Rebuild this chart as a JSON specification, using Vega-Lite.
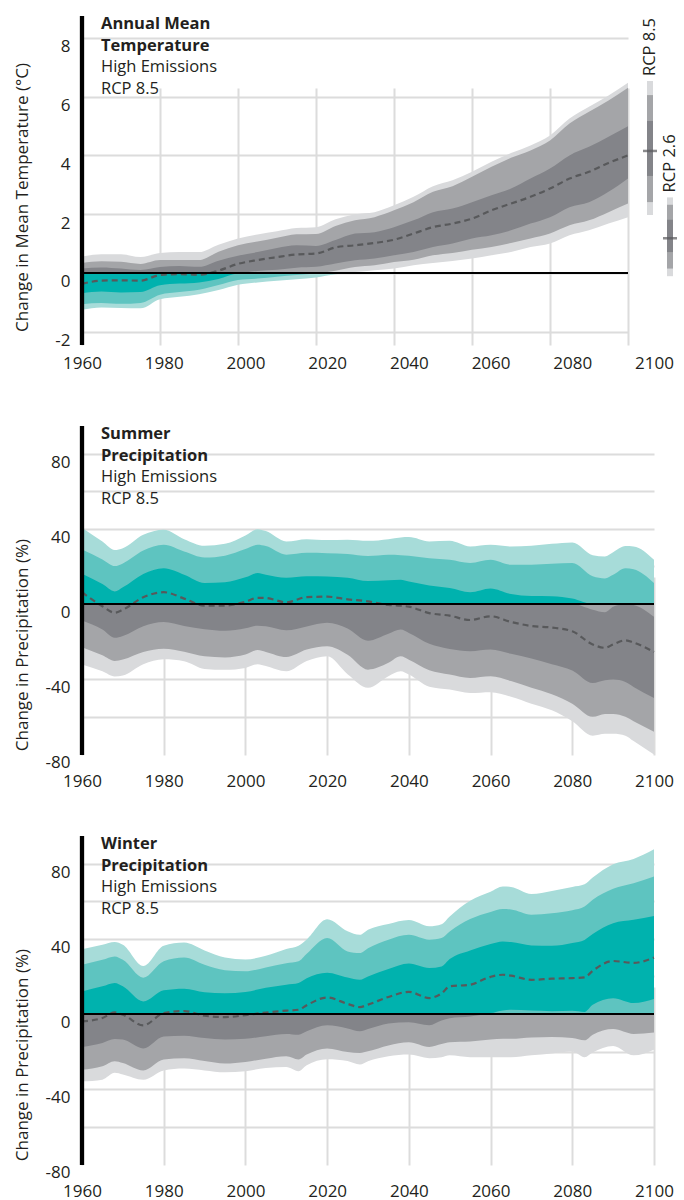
{
"$schema": "https://vega.github.io/schema/vega-lite/v6.json",
"autosize": {"type": "pad"},
"padding": {"left": 12, "top": 13, "right": 5, "bottom": 5},
"bounds": "flush",
"spacing": 81,
"config": {"font": "Open Sans", "view": {"stroke": null},
  "axis": {"labelColor": "#231f20", "titleColor": "#231f20", "labelFontSize": 17, "titleFontSize": 17, "titleFontWeight": "normal", "gridColor": "#dcdcdc", "gridWidth": 2, "domain": false, "ticks": false, "labelFont": "Open Sans", "titleFont": "Open Sans"}},
"datasets": {
"temp": [
{"year":1960,"p5":-1.25,"p10":-1.06,"p25":-0.69,"p50":-0.37,"p75":0.15,"p90":0.34,"p95":0.56},
{"year":1965,"p5":-1.17,"p10":-1.02,"p25":-0.63,"p50":-0.26,"p75":0.19,"p90":0.40,"p95":0.64},
{"year":1970,"p5":-1.19,"p10":-1.05,"p25":-0.66,"p50":-0.25,"p75":0.15,"p90":0.38,"p95":0.64},
{"year":1975,"p5":-1.20,"p10":-1.02,"p25":-0.65,"p50":-0.26,"p75":0.10,"p90":0.31,"p95":0.54},
{"year":1980,"p5":-0.89,"p10":-0.74,"p25":-0.42,"p50":-0.07,"p75":0.20,"p90":0.44,"p95":0.68},
{"year":1985,"p5":-0.81,"p10":-0.65,"p25":-0.36,"p50":-0.04,"p75":0.24,"p90":0.44,"p95":0.71},
{"year":1990,"p5":-0.72,"p10":-0.57,"p25":-0.32,"p50":-0.06,"p75":0.21,"p90":0.44,"p95":0.71},
{"year":1995,"p5":-0.58,"p10":-0.41,"p25":-0.20,"p50":0.08,"p75":0.42,"p90":0.72,"p95":0.96},
{"year":2000,"p5":-0.40,"p10":-0.24,"p25":-0.02,"p50":0.31,"p75":0.59,"p90":0.94,"p95":1.17},
{"year":2005,"p5":-0.32,"p10":-0.19,"p25":0.07,"p50":0.44,"p75":0.71,"p90":1.07,"p95":1.31},
{"year":2010,"p5":-0.26,"p10":-0.13,"p25":0.11,"p50":0.54,"p75":0.85,"p90":1.20,"p95":1.42},
{"year":2015,"p5":-0.21,"p10":-0.07,"p25":0.18,"p50":0.63,"p75":0.94,"p90":1.32,"p95":1.53},
{"year":2020,"p5":-0.15,"p10":-0.02,"p25":0.21,"p50":0.66,"p75":0.92,"p90":1.33,"p95":1.56},
{"year":2025,"p5":-0.04,"p10":0.08,"p25":0.32,"p50":0.87,"p75":1.12,"p90":1.60,"p95":1.83},
{"year":2030,"p5":0.03,"p10":0.20,"p25":0.43,"p50":0.94,"p75":1.34,"p90":1.79,"p95":2.00},
{"year":2035,"p5":0.09,"p10":0.26,"p25":0.49,"p50":1.02,"p75":1.39,"p90":1.90,"p95":2.07},
{"year":2040,"p5":0.15,"p10":0.37,"p25":0.60,"p50":1.13,"p75":1.56,"p90":2.13,"p95":2.30},
{"year":2045,"p5":0.26,"p10":0.45,"p25":0.71,"p50":1.34,"p75":1.79,"p90":2.41,"p95":2.59},
{"year":2050,"p5":0.34,"p10":0.60,"p25":0.88,"p50":1.56,"p75":2.07,"p90":2.76,"p95":2.95},
{"year":2055,"p5":0.41,"p10":0.68,"p25":1.00,"p50":1.68,"p75":2.19,"p90":2.95,"p95":3.15},
{"year":2060,"p5":0.49,"p10":0.79,"p25":1.17,"p50":1.85,"p75":2.41,"p90":3.27,"p95":3.44},
{"year":2065,"p5":0.60,"p10":0.88,"p25":1.28,"p50":2.13,"p75":2.64,"p90":3.61,"p95":3.78},
{"year":2070,"p5":0.71,"p10":1.02,"p25":1.45,"p50":2.36,"p75":2.87,"p90":3.92,"p95":4.08},
{"year":2075,"p5":0.88,"p10":1.17,"p25":1.68,"p50":2.59,"p75":3.21,"p90":4.17,"p95":4.34},
{"year":2080,"p5":1.00,"p10":1.34,"p25":1.90,"p50":2.87,"p75":3.55,"p90":4.51,"p95":4.68},
{"year":2085,"p5":1.28,"p10":1.62,"p25":2.24,"p50":3.21,"p75":4.00,"p90":5.08,"p95":5.25},
{"year":2090,"p5":1.45,"p10":1.79,"p25":2.41,"p50":3.44,"p75":4.29,"p90":5.48,"p95":5.65},
{"year":2095,"p5":1.68,"p10":2.07,"p25":2.76,"p50":3.74,"p75":4.63,"p90":5.87,"p95":6.04},
{"year":2100,"p5":1.90,"p10":2.36,"p25":3.21,"p50":4.00,"p75":4.99,"p90":6.30,"p95":6.47}
],
"rcp": [
{"scenario":"RCP 8.5","p5":1.97,"p10":2.41,"p25":3.30,"p50":4.15,"p75":5.17,"p90":6.05,"p95":6.53},
{"scenario":"RCP 2.6","p5":-0.11,"p10":0.15,"p25":0.71,"p50":1.18,"p75":1.81,"p90":2.32,"p95":2.57}
],
"summer": [
{"year":1960,"p5":-32.2,"p10":-23,"p25":-8.8,"p50":6.3,"p75":16.1,"p90":29,"p95":40.6},
{"year":1965,"p5":-35.8,"p10":-27.3,"p25":-13.6,"p50":-1.2,"p75":10.6,"p90":23.7,"p95":33.2},
{"year":1968,"p5":-38.5,"p10":-30.3,"p25":-18,"p50":-4.6,"p75":6.7,"p90":20.2,"p95":28.7},
{"year":1970,"p5":-38,"p10":-29.5,"p25":-17,"p50":-3,"p75":8.9,"p90":21.6,"p95":29.7},
{"year":1975,"p5":-32,"p10":-25.5,"p25":-11.8,"p50":3.6,"p75":16,"p90":28.4,"p95":36.8},
{"year":1980,"p5":-29.4,"p10":-23.8,"p25":-9.6,"p50":6.3,"p75":19,"p90":31.5,"p95":39.5},
{"year":1985,"p5":-30.4,"p10":-25.4,"p25":-11.7,"p50":2.9,"p75":15.6,"p90":27.9,"p95":34.5},
{"year":1990,"p5":-34.5,"p10":-27.8,"p25":-13.4,"p50":-0.9,"p75":11.2,"p90":24.7,"p95":31},
{"year":1995,"p5":-35,"p10":-28.4,"p25":-14.2,"p50":-0.8,"p75":11.6,"p90":25.7,"p95":32},
{"year":2000,"p5":-34,"p10":-26.9,"p25":-12.9,"p50":1.2,"p75":14.2,"p90":29.2,"p95":36.4},
{"year":2003,"p5":-32,"p10":-24.5,"p25":-11.5,"p50":3.3,"p75":16.5,"p90":31.5,"p95":39.8},
{"year":2005,"p5":-33,"p10":-25.5,"p25":-11.8,"p50":3.2,"p75":15.6,"p90":30.8,"p95":38.8},
{"year":2010,"p5":-35.8,"p10":-28.2,"p25":-14,"p50":0.9,"p75":14,"p90":26.2,"p95":33.3},
{"year":2015,"p5":-30.3,"p10":-24.2,"p25":-11.9,"p50":3.7,"p75":14.8,"p90":27.2,"p95":34.5},
{"year":2020,"p5":-27.8,"p10":-22.5,"p25":-10,"p50":3.9,"p75":14.6,"p90":27,"p95":34},
{"year":2025,"p5":-37.3,"p10":-27,"p25":-13,"p50":2.5,"p75":14,"p90":26.6,"p95":34.2},
{"year":2030,"p5":-44.6,"p10":-34.9,"p25":-19.5,"p50":1.4,"p75":12.2,"p90":25.5,"p95":33.6},
{"year":2035,"p5":-38.4,"p10":-31.3,"p25":-15.8,"p50":-0.5,"p75":12.6,"p90":26.2,"p95":34.5},
{"year":2038,"p5":-35.8,"p10":-27.8,"p25":-13.6,"p50":-0.9,"p75":12.9,"p90":26,"p95":35.4},
{"year":2040,"p5":-37.5,"p10":-29.6,"p25":-15.4,"p50":-1.4,"p75":12,"p90":25.7,"p95":35.6},
{"year":2045,"p5":-44,"p10":-35.2,"p25":-21.2,"p50":-4.8,"p75":9.9,"p90":24.4,"p95":33.3},
{"year":2050,"p5":-45.5,"p10":-37.5,"p25":-23.9,"p50":-6.2,"p75":8.5,"p90":23.5,"p95":33.6},
{"year":2055,"p5":-47.3,"p10":-39.3,"p25":-25.1,"p50":-8.5,"p75":6.3,"p90":21.8,"p95":30.6},
{"year":2060,"p5":-46.9,"p10":-38.4,"p25":-24.2,"p50":-6.5,"p75":8.3,"p90":23.5,"p95":31.5},
{"year":2065,"p5":-49.3,"p10":-41,"p25":-26.4,"p50":-9.5,"p75":5.3,"p90":20.9,"p95":30.6},
{"year":2070,"p5":-53,"p10":-44.5,"p25":-29,"p50":-11.7,"p75":4.2,"p90":20.9,"p95":31},
{"year":2075,"p5":-56.5,"p10":-48,"p25":-32,"p50":-12.5,"p75":4.1,"p90":21.4,"p95":32},
{"year":2080,"p5":-62.3,"p10":-53,"p25":-35.3,"p50":-14.5,"p75":2.9,"p90":21.8,"p95":32.7},
{"year":2085,"p5":-70,"p10":-60,"p25":-42,"p50":-21.5,"p75":-3,"p90":14.7,"p95":26},
{"year":2088,"p5":-69,"p10":-58.5,"p25":-40.5,"p50":-23.3,"p75":-4.4,"p90":13.6,"p95":25.3},
{"year":2090,"p5":-69,"p10":-58.5,"p25":-40.2,"p50":-21.5,"p75":-1.5,"p90":15.5,"p95":27.5},
{"year":2093,"p5":-70,"p10":-60,"p25":-41.5,"p50":-19.3,"p75":0.3,"p90":19,"p95":30.8},
{"year":2095,"p5":-72.9,"p10":-62.3,"p25":-44.1,"p50":-20.5,"p75":-0.5,"p90":18.5,"p95":30.6},
{"year":2100,"p5":-80,"p10":-68,"p25":-50,"p50":-25.5,"p75":-6.8,"p90":11.2,"p95":23.5}
],
"winter": [
{"year":1960,"p5":-35.8,"p10":-29.6,"p25":-17.5,"p50":-3.9,"p75":12,"p90":26.2,"p95":34.5},
{"year":1965,"p5":-34.9,"p10":-27.8,"p25":-15.4,"p50":-2.1,"p75":14.7,"p90":28.8,"p95":36.8},
{"year":1968,"p5":-31.3,"p10":-25.1,"p25":-13.3,"p50":0.9,"p75":16.5,"p90":30.6,"p95":38.3},
{"year":1970,"p5":-32.2,"p10":-26,"p25":-13.6,"p50":-0.4,"p75":14.7,"p90":28.8,"p95":36.8},
{"year":1975,"p5":-35,"p10":-30,"p25":-18.3,"p50":-6,"p75":6.7,"p90":19.3,"p95":25.5},
{"year":1980,"p5":-30,"p10":-24.2,"p25":-11.9,"p50":0.5,"p75":12.6,"p90":28,"p95":36.3},
{"year":1985,"p5":-29,"p10":-23.5,"p25":-11.5,"p50":1.6,"p75":13.5,"p90":30,"p95":38},
{"year":1990,"p5":-30,"p10":-25,"p25":-12.8,"p50":-0.9,"p75":11.6,"p90":26.2,"p95":33.8},
{"year":1995,"p5":-31,"p10":-26.3,"p25":-13.5,"p50":-1.6,"p75":11,"p90":23.3,"p95":30},
{"year":2000,"p5":-30.4,"p10":-25.5,"p25":-13.2,"p50":-0.6,"p75":11.7,"p90":22.7,"p95":29},
{"year":2005,"p5":-28.7,"p10":-23.8,"p25":-11.8,"p50":0.8,"p75":14,"p90":24.8,"p95":31},
{"year":2010,"p5":-28.2,"p10":-22.5,"p25":-10.6,"p50":1.8,"p75":15.6,"p90":27,"p95":34.6},
{"year":2013,"p5":-30.4,"p10":-24.2,"p25":-11,"p50":2.3,"p75":16.5,"p90":28,"p95":36.3},
{"year":2015,"p5":-27.3,"p10":-21.6,"p25":-9.2,"p50":4.7,"p75":19,"p90":32,"p95":39.7},
{"year":2020,"p5":-24,"p10":-18.3,"p25":-6,"p50":8.8,"p75":22,"p90":40.4,"p95":50.4},
{"year":2025,"p5":-25,"p10":-20.2,"p25":-7.7,"p50":5.4,"p75":19.4,"p90":33.3,"p95":44},
{"year":2028,"p5":-26.9,"p10":-20.7,"p25":-9.2,"p50":3.7,"p75":18.2,"p90":32.4,"p95":42.1},
{"year":2030,"p5":-25.1,"p10":-19.8,"p25":-8,"p50":5,"p75":20,"p90":35,"p95":44.8},
{"year":2035,"p5":-22.5,"p10":-16.7,"p25":-5,"p50":9.1,"p75":24,"p90":39.5,"p95":47.9},
{"year":2040,"p5":-21.6,"p10":-15,"p25":-4.4,"p50":11.8,"p75":26.9,"p90":42.1,"p95":50},
{"year":2045,"p5":-23.5,"p10":-17.5,"p25":-6,"p50":8.5,"p75":24.5,"p90":39.5,"p95":46.7},
{"year":2048,"p5":-23,"p10":-16,"p25":-3.5,"p50":11,"p75":25.3,"p90":40.4,"p95":47.8},
{"year":2050,"p5":-22,"p10":-15,"p25":-2.2,"p50":14.7,"p75":29.2,"p90":43.9,"p95":51.9},
{"year":2055,"p5":-23,"p10":-14.6,"p25":-1.3,"p50":15.6,"p75":33.8,"p90":50.5,"p95":60.2},
{"year":2060,"p5":-23,"p10":-13.5,"p25":0.5,"p50":19.8,"p75":37.2,"p90":54.3,"p95":65},
{"year":2063,"p5":-23,"p10":-13.2,"p25":1.9,"p50":20.9,"p75":38.6,"p90":55.8,"p95":67.8},
{"year":2065,"p5":-23,"p10":-13.2,"p25":2.2,"p50":20.4,"p75":38.3,"p90":55.6,"p95":67.6},
{"year":2070,"p5":-22,"p10":-12.5,"p25":1.8,"p50":18.2,"p75":36.5,"p90":52.8,"p95":63.8},
{"year":2075,"p5":-21,"p10":-12.2,"p25":1.5,"p50":18.8,"p75":36.3,"p90":53.6,"p95":65.5},
{"year":2080,"p5":-20,"p10":-12.7,"p25":1.7,"p50":19.1,"p75":37.8,"p90":55.2,"p95":67.6},
{"year":2083,"p5":-23,"p10":-14,"p25":1.1,"p50":19.5,"p75":39.4,"p90":57.2,"p95":69},
{"year":2085,"p5":-20.5,"p10":-11,"p25":4.9,"p50":23,"p75":42.5,"p90":60.8,"p95":72.6},
{"year":2090,"p5":-17,"p10":-8,"p25":8.4,"p50":28.2,"p75":48.3,"p90":66.7,"p95":79.7},
{"year":2095,"p5":-22,"p10":-10.6,"p25":5.8,"p50":27.2,"p75":50.1,"p90":69.6,"p95":82.5},
{"year":2100,"p5":-19,"p10":-9.9,"p25":8,"p50":30,"p75":52.2,"p90":73.1,"p95":87.6}
]
},
"vconcat": [
{
 "width": 546, "height": 329,
 "layer": [
  {
   "data": {"name": "temp"},
   "layer": [
    {"mark": {"type": "area", "interpolate": "monotone", "color": "#d9dadc"}, "encoding": {"x": {"field": "year", "type": "quantitative", "scale": {"domain": [1960, 2100], "nice": false, "zero": false}, "axis": {"orient": "bottom", "values": [1960,1980,2000,2020,2040,2060,2080,2100], "labels": false, "title": null, "grid": true}}, "y": {"field": "p95", "type": "quantitative", "scale": {"domain": [0, 8.74], "range": [257, 0], "clamp": true, "nice": false, "zero": false}, "axis": null}, "y2": {"field": "p5"}}},
    {"mark": {"type": "area", "interpolate": "monotone", "color": "#a7dcd9"}, "encoding": {"x": {"field": "year", "type": "quantitative", "scale": {"domain": [1960, 2100], "nice": false, "zero": false}, "axis": {"orient": "bottom", "values": [1960,1980,2000,2020,2040,2060,2080,2100], "labels": false, "title": null, "grid": true}}, "y": {"field": "p95", "type": "quantitative", "scale": {"domain": [-2.45, 0], "range": [329, 257], "clamp": true, "nice": false, "zero": false}, "axis": null}, "y2": {"field": "p5"}}},
    {"mark": {"type": "area", "interpolate": "monotone", "color": "#a4a5a8"}, "encoding": {"x": {"field": "year", "type": "quantitative", "scale": {"domain": [1960, 2100], "nice": false, "zero": false}, "axis": {"orient": "bottom", "values": [1960,1980,2000,2020,2040,2060,2080,2100], "labels": false, "title": null, "grid": true}}, "y": {"field": "p90", "type": "quantitative", "scale": {"domain": [0, 8.74], "range": [257, 0], "clamp": true, "nice": false, "zero": false}, "axis": null}, "y2": {"field": "p10"}}},
    {"mark": {"type": "area", "interpolate": "monotone", "color": "#5ec4c0"}, "encoding": {"x": {"field": "year", "type": "quantitative", "scale": {"domain": [1960, 2100], "nice": false, "zero": false}, "axis": {"orient": "bottom", "values": [1960,1980,2000,2020,2040,2060,2080,2100], "labels": false, "title": null, "grid": true}}, "y": {"field": "p90", "type": "quantitative", "scale": {"domain": [-2.45, 0], "range": [329, 257], "clamp": true, "nice": false, "zero": false}, "axis": null}, "y2": {"field": "p10"}}},
    {"mark": {"type": "area", "interpolate": "monotone", "color": "#838489"}, "encoding": {"x": {"field": "year", "type": "quantitative", "scale": {"domain": [1960, 2100], "nice": false, "zero": false}, "axis": {"orient": "bottom", "values": [1960,1980,2000,2020,2040,2060,2080,2100], "labels": false, "title": null, "grid": true}}, "y": {"field": "p75", "type": "quantitative", "scale": {"domain": [0, 8.74], "range": [257, 0], "clamp": true, "nice": false, "zero": false}, "axis": null}, "y2": {"field": "p25"}}},
    {"mark": {"type": "area", "interpolate": "monotone", "color": "#00b2ae"}, "encoding": {"x": {"field": "year", "type": "quantitative", "scale": {"domain": [1960, 2100], "nice": false, "zero": false}, "axis": {"orient": "bottom", "values": [1960,1980,2000,2020,2040,2060,2080,2100], "labels": false, "title": null, "grid": true}}, "y": {"field": "p75", "type": "quantitative", "scale": {"domain": [-2.45, 0], "range": [329, 257], "clamp": true, "nice": false, "zero": false}, "axis": null}, "y2": {"field": "p25"}}},
    {"mark": {"type": "line", "interpolate": "monotone", "color": "#58595b", "strokeDash": [6, 4], "strokeWidth": 2.2}, "encoding": {"x": {"field": "year", "type": "quantitative", "scale": {"domain": [1960, 2100], "nice": false, "zero": false}, "axis": {"orient": "bottom", "values": [1960,1980,2000,2020,2040,2060,2080,2100], "labels": false, "title": null, "grid": true}}, "y": {"field": "p50", "type": "quantitative", "scale": {"domain": [-2.45, 8.74], "nice": false, "zero": false}, "axis": {"orient": "left", "values": [-2,0,2,4,6,8], "labelExpr": "'' + datum.value", "labelOffset": 9, "labelPadding": 12, "grid": true, "title": "Change in Mean Temperature (°C)", "titleX": -60, "titleY": 181, "titleAngle": 270, "titleAlign": "center", "titleBaseline": "middle"}}}},
    {"data": {"values": [{}]}, "mark": {"type": "rule", "color": "#000000", "strokeWidth": 2}, "encoding": {"x": {"datum": 1960, "type": "quantitative", "axis": {"orient": "bottom", "values": [1960,1980,2000,2020,2040,2060,2080,2100], "labels": false, "title": null, "grid": true}}, "x2": {"datum": 2100}, "y": {"datum": 0, "type": "quantitative", "scale": {"domain": [-2.45, 8.74], "nice": false, "zero": false}, "axis": null}}},
    {"data": {"values": [{}]}, "mark": {"type": "rule", "color": "#000000", "strokeWidth": 4.3}, "encoding": {"x": {"datum": 1960, "type": "quantitative", "axis": {"orient": "bottom", "values": [1960,1980,2000,2020,2040,2060,2080,2100], "labels": false, "title": null, "grid": true}}}},
    {"data": {"values": [{}]}, "mark": {"type": "text", "text": ["Annual Mean", "Temperature"], "fontWeight": "bold", "fontSize": 16.5, "align": "left", "baseline": "top", "dx": 19, "dy": 0, "lineHeight": 21.5, "color": "#231f20"}, "encoding": {"x": {"datum": 1960, "type": "quantitative", "axis": {"orient": "bottom", "values": [1960,1980,2000,2020,2040,2060,2080,2100], "labels": false, "title": null, "grid": true}}, "y": {"datum": 8.74, "type": "quantitative", "scale": {"domain": [-2.45, 8.74], "nice": false, "zero": false}, "axis": null}}},
    {"data": {"values": [{}]}, "mark": {"type": "text", "text": ["High Emissions", "RCP 8.5"], "fontWeight": "normal", "fontSize": 16.5, "align": "left", "baseline": "top", "dx": 19, "dy": 43, "lineHeight": 21.5, "color": "#231f20"}, "encoding": {"x": {"datum": 1960, "type": "quantitative", "axis": {"orient": "bottom", "values": [1960,1980,2000,2020,2040,2060,2080,2100], "labels": false, "title": null, "grid": true}}, "y": {"datum": 8.74, "type": "quantitative", "scale": {"domain": [-2.45, 8.74], "nice": false, "zero": false}, "axis": null}}}
   ],
   "resolve": {"scale": {"y": "independent"}}
  },
  {
   "data": {"values": [{}]},
   "mark": {"type": "rule", "opacity": 0},
   "encoding": {"x": {"datum": 1960, "type": "quantitative", "scale": {"domain": [1960, 2100], "range": [0, 572], "nice": false, "zero": false}, "axis": {"orient": "bottom", "values": [1960,1980,2000,2020,2040,2060,2080,2100], "format": "d", "title": null, "grid": false, "labelPadding": 10, "labelFlush": false, "labelOverlap": false}}}
  },
  {
   "data": {"name": "rcp"},
   "layer": [
    {"mark": {"type": "rule", "strokeWidth": 6, "color": "#d9dadc"}, "encoding": {"x": {"field": "scenario", "type": "nominal", "scale": {"type": "point", "domain": ["RCP 8.5", "RCP 2.6"], "range": [568, 588], "padding": 0}, "axis": null}, "y": {"field": "p5", "type": "quantitative", "scale": {"domain": [-2.45, 8.74], "nice": false, "zero": false}, "axis": null}, "y2": {"field": "p95"}}},
    {"mark": {"type": "rule", "strokeWidth": 6, "color": "#a4a5a8"}, "encoding": {"x": {"field": "scenario", "type": "nominal", "axis": null}, "y": {"field": "p10", "type": "quantitative", "axis": null}, "y2": {"field": "p90"}}},
    {"mark": {"type": "rule", "strokeWidth": 6, "color": "#838489"}, "encoding": {"x": {"field": "scenario", "type": "nominal", "axis": null}, "y": {"field": "p25", "type": "quantitative", "axis": null}, "y2": {"field": "p75"}}},
    {"mark": {"type": "tick", "size": 14, "thickness": 2.5, "color": "#58595b"}, "encoding": {"x": {"field": "scenario", "type": "nominal", "axis": null}, "y": {"field": "p50", "type": "quantitative", "axis": null}}},
    {"mark": {"type": "text", "angle": 270, "align": "left", "baseline": "middle", "dx": 5, "fontSize": 16.5, "color": "#231f20"}, "encoding": {"x": {"field": "scenario", "type": "nominal", "axis": null}, "y": {"field": "p95", "type": "quantitative", "axis": null}, "text": {"field": "scenario"}}}
   ]
  }
 ],
 "resolve": {"scale": {"x": "independent", "y": "independent"}}
},
{
 "width": 572, "height": 329,
 "data": {"name": "summer"},
 "layer": [
  {"mark": {"type": "area", "interpolate": "monotone", "color": "#a7dcd9"}, "encoding": {"x": {"field": "year", "type": "quantitative", "scale": {"domain": [1960, 2100], "nice": false, "zero": false}, "axis": {"orient": "bottom", "values": [1960,1980,2000,2020,2040,2060,2080,2100], "format": "d", "title": null, "grid": true, "labelPadding": 18, "labelFlush": false, "labelOverlap": false}}, "y": {"field": "p95", "type": "quantitative", "scale": {"domain": [0, 94.7], "range": [178, 0], "clamp": true, "nice": false, "zero": false}, "axis": null}, "y2": {"field": "p5"}}},
  {"mark": {"type": "area", "interpolate": "monotone", "color": "#d9dadc"}, "encoding": {"x": {"field": "year", "type": "quantitative", "scale": {"domain": [1960, 2100], "nice": false, "zero": false}, "axis": {"orient": "bottom", "values": [1960,1980,2000,2020,2040,2060,2080,2100], "format": "d", "title": null, "grid": true, "labelPadding": 18, "labelFlush": false, "labelOverlap": false}}, "y": {"field": "p95", "type": "quantitative", "scale": {"domain": [-80.3, 0], "range": [329, 178], "clamp": true, "nice": false, "zero": false}, "axis": null}, "y2": {"field": "p5"}}},
  {"mark": {"type": "area", "interpolate": "monotone", "color": "#5ec4c0"}, "encoding": {"x": {"field": "year", "type": "quantitative", "scale": {"domain": [1960, 2100], "nice": false, "zero": false}, "axis": {"orient": "bottom", "values": [1960,1980,2000,2020,2040,2060,2080,2100], "format": "d", "title": null, "grid": true, "labelPadding": 18, "labelFlush": false, "labelOverlap": false}}, "y": {"field": "p90", "type": "quantitative", "scale": {"domain": [0, 94.7], "range": [178, 0], "clamp": true, "nice": false, "zero": false}, "axis": null}, "y2": {"field": "p10"}}},
  {"mark": {"type": "area", "interpolate": "monotone", "color": "#a4a5a8"}, "encoding": {"x": {"field": "year", "type": "quantitative", "scale": {"domain": [1960, 2100], "nice": false, "zero": false}, "axis": {"orient": "bottom", "values": [1960,1980,2000,2020,2040,2060,2080,2100], "format": "d", "title": null, "grid": true, "labelPadding": 18, "labelFlush": false, "labelOverlap": false}}, "y": {"field": "p90", "type": "quantitative", "scale": {"domain": [-80.3, 0], "range": [329, 178], "clamp": true, "nice": false, "zero": false}, "axis": null}, "y2": {"field": "p10"}}},
  {"mark": {"type": "area", "interpolate": "monotone", "color": "#00b2ae"}, "encoding": {"x": {"field": "year", "type": "quantitative", "scale": {"domain": [1960, 2100], "nice": false, "zero": false}, "axis": {"orient": "bottom", "values": [1960,1980,2000,2020,2040,2060,2080,2100], "format": "d", "title": null, "grid": true, "labelPadding": 18, "labelFlush": false, "labelOverlap": false}}, "y": {"field": "p75", "type": "quantitative", "scale": {"domain": [0, 94.7], "range": [178, 0], "clamp": true, "nice": false, "zero": false}, "axis": null}, "y2": {"field": "p25"}}},
  {"mark": {"type": "area", "interpolate": "monotone", "color": "#838489"}, "encoding": {"x": {"field": "year", "type": "quantitative", "scale": {"domain": [1960, 2100], "nice": false, "zero": false}, "axis": {"orient": "bottom", "values": [1960,1980,2000,2020,2040,2060,2080,2100], "format": "d", "title": null, "grid": true, "labelPadding": 18, "labelFlush": false, "labelOverlap": false}}, "y": {"field": "p75", "type": "quantitative", "scale": {"domain": [-80.3, 0], "range": [329, 178], "clamp": true, "nice": false, "zero": false}, "axis": null}, "y2": {"field": "p25"}}},
  {"mark": {"type": "line", "interpolate": "monotone", "color": "#58595b", "strokeDash": [6, 4], "strokeWidth": 2.2}, "encoding": {"x": {"field": "year", "type": "quantitative", "scale": {"domain": [1960, 2100], "nice": false, "zero": false}, "axis": {"orient": "bottom", "values": [1960,1980,2000,2020,2040,2060,2080,2100], "format": "d", "title": null, "grid": true, "labelPadding": 18, "labelFlush": false, "labelOverlap": false}}, "y": {"field": "p50", "type": "quantitative", "scale": {"domain": [-80.3, 94.7], "nice": false, "zero": false}, "axis": {"orient": "left", "values": [-80,-60,-40,-20,0,20,40,60,80], "labelExpr": "datum.value % 40 == 0 ? '' + datum.value : ''", "labelOffset": 8.5, "labelPadding": 12, "grid": true, "gridColor": {"condition": {"test": "datum.value == -80", "value": "transparent"}, "value": "#dcdcdc"}, "title": "Change in Precipitation (%)", "titleX": -60, "titleY": 218.6, "titleAngle": 270, "titleAlign": "center", "titleBaseline": "middle"}}}},
  {"data": {"values": [{}]}, "mark": {"type": "rule", "color": "#000000", "strokeWidth": 2}, "encoding": {"x": {"datum": 1960, "type": "quantitative", "axis": {"orient": "bottom", "values": [1960,1980,2000,2020,2040,2060,2080,2100], "format": "d", "title": null, "grid": true, "labelPadding": 18, "labelFlush": false, "labelOverlap": false}}, "x2": {"datum": 2100}, "y": {"datum": 0, "type": "quantitative", "scale": {"domain": [-80.3, 94.7], "nice": false, "zero": false}, "axis": null}}},
  {"data": {"values": [{}]}, "mark": {"type": "rule", "color": "#000000", "strokeWidth": 4.3}, "encoding": {"x": {"datum": 1960, "type": "quantitative", "axis": {"orient": "bottom", "values": [1960,1980,2000,2020,2040,2060,2080,2100], "format": "d", "title": null, "grid": true, "labelPadding": 18, "labelFlush": false, "labelOverlap": false}}}},
  {"data": {"values": [{}]}, "mark": {"type": "text", "text": ["Summer", "Precipitation"], "fontWeight": "bold", "fontSize": 16.5, "align": "left", "baseline": "top", "dx": 19, "dy": 0, "lineHeight": 21.5, "color": "#231f20"}, "encoding": {"x": {"datum": 1960, "type": "quantitative", "axis": {"orient": "bottom", "values": [1960,1980,2000,2020,2040,2060,2080,2100], "format": "d", "title": null, "grid": true, "labelPadding": 18, "labelFlush": false, "labelOverlap": false}}, "y": {"datum": 94.7, "type": "quantitative", "scale": {"domain": [-80.3, 94.7], "nice": false, "zero": false}, "axis": null}}},
  {"data": {"values": [{}]}, "mark": {"type": "text", "text": ["High Emissions", "RCP 8.5"], "fontWeight": "normal", "fontSize": 16.5, "align": "left", "baseline": "top", "dx": 19, "dy": 43, "lineHeight": 21.5, "color": "#231f20"}, "encoding": {"x": {"datum": 1960, "type": "quantitative", "axis": {"orient": "bottom", "values": [1960,1980,2000,2020,2040,2060,2080,2100], "format": "d", "title": null, "grid": true, "labelPadding": 18, "labelFlush": false, "labelOverlap": false}}, "y": {"datum": 94.7, "type": "quantitative", "scale": {"domain": [-80.3, 94.7], "nice": false, "zero": false}, "axis": null}}}
 ],
 "resolve": {"scale": {"y": "independent"}}
},
{
 "width": 572, "height": 329,
 "data": {"name": "winter"},
 "layer": [
  {"mark": {"type": "area", "interpolate": "monotone", "color": "#a7dcd9"}, "encoding": {"x": {"field": "year", "type": "quantitative", "scale": {"domain": [1960, 2100], "nice": false, "zero": false}, "axis": {"orient": "bottom", "values": [1960,1980,2000,2020,2040,2060,2080,2100], "format": "d", "title": null, "grid": true, "labelPadding": 18, "labelFlush": false, "labelOverlap": false}}, "y": {"field": "p95", "type": "quantitative", "scale": {"domain": [0, 94.7], "range": [178, 0], "clamp": true, "nice": false, "zero": false}, "axis": null}, "y2": {"field": "p5"}}},
  {"mark": {"type": "area", "interpolate": "monotone", "color": "#d9dadc"}, "encoding": {"x": {"field": "year", "type": "quantitative", "scale": {"domain": [1960, 2100], "nice": false, "zero": false}, "axis": {"orient": "bottom", "values": [1960,1980,2000,2020,2040,2060,2080,2100], "format": "d", "title": null, "grid": true, "labelPadding": 18, "labelFlush": false, "labelOverlap": false}}, "y": {"field": "p95", "type": "quantitative", "scale": {"domain": [-80.3, 0], "range": [329, 178], "clamp": true, "nice": false, "zero": false}, "axis": null}, "y2": {"field": "p5"}}},
  {"mark": {"type": "area", "interpolate": "monotone", "color": "#5ec4c0"}, "encoding": {"x": {"field": "year", "type": "quantitative", "scale": {"domain": [1960, 2100], "nice": false, "zero": false}, "axis": {"orient": "bottom", "values": [1960,1980,2000,2020,2040,2060,2080,2100], "format": "d", "title": null, "grid": true, "labelPadding": 18, "labelFlush": false, "labelOverlap": false}}, "y": {"field": "p90", "type": "quantitative", "scale": {"domain": [0, 94.7], "range": [178, 0], "clamp": true, "nice": false, "zero": false}, "axis": null}, "y2": {"field": "p10"}}},
  {"mark": {"type": "area", "interpolate": "monotone", "color": "#a4a5a8"}, "encoding": {"x": {"field": "year", "type": "quantitative", "scale": {"domain": [1960, 2100], "nice": false, "zero": false}, "axis": {"orient": "bottom", "values": [1960,1980,2000,2020,2040,2060,2080,2100], "format": "d", "title": null, "grid": true, "labelPadding": 18, "labelFlush": false, "labelOverlap": false}}, "y": {"field": "p90", "type": "quantitative", "scale": {"domain": [-80.3, 0], "range": [329, 178], "clamp": true, "nice": false, "zero": false}, "axis": null}, "y2": {"field": "p10"}}},
  {"mark": {"type": "area", "interpolate": "monotone", "color": "#00b2ae"}, "encoding": {"x": {"field": "year", "type": "quantitative", "scale": {"domain": [1960, 2100], "nice": false, "zero": false}, "axis": {"orient": "bottom", "values": [1960,1980,2000,2020,2040,2060,2080,2100], "format": "d", "title": null, "grid": true, "labelPadding": 18, "labelFlush": false, "labelOverlap": false}}, "y": {"field": "p75", "type": "quantitative", "scale": {"domain": [0, 94.7], "range": [178, 0], "clamp": true, "nice": false, "zero": false}, "axis": null}, "y2": {"field": "p25"}}},
  {"mark": {"type": "area", "interpolate": "monotone", "color": "#838489"}, "encoding": {"x": {"field": "year", "type": "quantitative", "scale": {"domain": [1960, 2100], "nice": false, "zero": false}, "axis": {"orient": "bottom", "values": [1960,1980,2000,2020,2040,2060,2080,2100], "format": "d", "title": null, "grid": true, "labelPadding": 18, "labelFlush": false, "labelOverlap": false}}, "y": {"field": "p75", "type": "quantitative", "scale": {"domain": [-80.3, 0], "range": [329, 178], "clamp": true, "nice": false, "zero": false}, "axis": null}, "y2": {"field": "p25"}}},
  {"mark": {"type": "line", "interpolate": "monotone", "color": "#58595b", "strokeDash": [6, 4], "strokeWidth": 2.2}, "encoding": {"x": {"field": "year", "type": "quantitative", "scale": {"domain": [1960, 2100], "nice": false, "zero": false}, "axis": {"orient": "bottom", "values": [1960,1980,2000,2020,2040,2060,2080,2100], "format": "d", "title": null, "grid": true, "labelPadding": 18, "labelFlush": false, "labelOverlap": false}}, "y": {"field": "p50", "type": "quantitative", "scale": {"domain": [-80.3, 94.7], "nice": false, "zero": false}, "axis": {"orient": "left", "values": [-80,-60,-40,-20,0,20,40,60,80], "labelExpr": "datum.value % 40 == 0 ? '' + datum.value : ''", "labelOffset": 8.5, "labelPadding": 12, "grid": true, "gridColor": {"condition": {"test": "datum.value == -80", "value": "transparent"}, "value": "#dcdcdc"}, "title": "Change in Precipitation (%)", "titleX": -60, "titleY": 218.6, "titleAngle": 270, "titleAlign": "center", "titleBaseline": "middle"}}}},
  {"data": {"values": [{}]}, "mark": {"type": "rule", "color": "#000000", "strokeWidth": 2}, "encoding": {"x": {"datum": 1960, "type": "quantitative", "axis": {"orient": "bottom", "values": [1960,1980,2000,2020,2040,2060,2080,2100], "format": "d", "title": null, "grid": true, "labelPadding": 18, "labelFlush": false, "labelOverlap": false}}, "x2": {"datum": 2100}, "y": {"datum": 0, "type": "quantitative", "scale": {"domain": [-80.3, 94.7], "nice": false, "zero": false}, "axis": null}}},
  {"data": {"values": [{}]}, "mark": {"type": "rule", "color": "#000000", "strokeWidth": 4.3}, "encoding": {"x": {"datum": 1960, "type": "quantitative", "axis": {"orient": "bottom", "values": [1960,1980,2000,2020,2040,2060,2080,2100], "format": "d", "title": null, "grid": true, "labelPadding": 18, "labelFlush": false, "labelOverlap": false}}}},
  {"data": {"values": [{}]}, "mark": {"type": "text", "text": ["Winter", "Precipitation"], "fontWeight": "bold", "fontSize": 16.5, "align": "left", "baseline": "top", "dx": 19, "dy": 0, "lineHeight": 21.5, "color": "#231f20"}, "encoding": {"x": {"datum": 1960, "type": "quantitative", "axis": {"orient": "bottom", "values": [1960,1980,2000,2020,2040,2060,2080,2100], "format": "d", "title": null, "grid": true, "labelPadding": 18, "labelFlush": false, "labelOverlap": false}}, "y": {"datum": 94.7, "type": "quantitative", "scale": {"domain": [-80.3, 94.7], "nice": false, "zero": false}, "axis": null}}},
  {"data": {"values": [{}]}, "mark": {"type": "text", "text": ["High Emissions", "RCP 8.5"], "fontWeight": "normal", "fontSize": 16.5, "align": "left", "baseline": "top", "dx": 19, "dy": 43, "lineHeight": 21.5, "color": "#231f20"}, "encoding": {"x": {"datum": 1960, "type": "quantitative", "axis": {"orient": "bottom", "values": [1960,1980,2000,2020,2040,2060,2080,2100], "format": "d", "title": null, "grid": true, "labelPadding": 18, "labelFlush": false, "labelOverlap": false}}, "y": {"datum": 94.7, "type": "quantitative", "scale": {"domain": [-80.3, 94.7], "nice": false, "zero": false}, "axis": null}}}
 ],
 "resolve": {"scale": {"y": "independent"}}
}
]
}
